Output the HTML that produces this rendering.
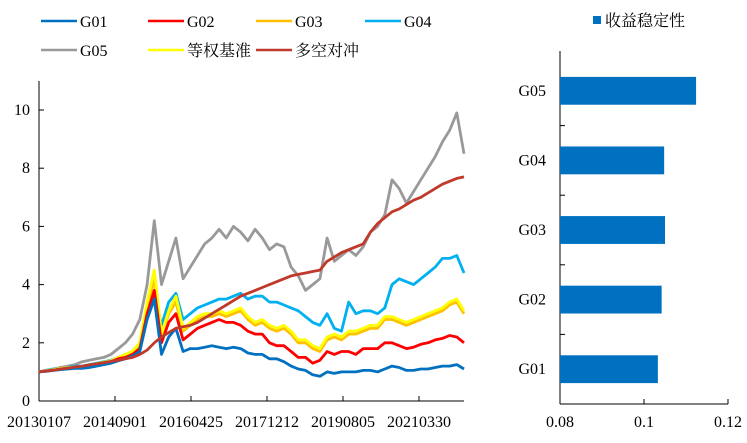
<!DOCTYPE html>
<html><head><meta charset="utf-8"><style>
body{margin:0;background:#fff;}
svg text{font-family:"Liberation Serif","Noto Serif CJK SC",serif;font-size:16px;fill:#000;}
</style></head><body>
<svg id="c" width="747" height="438"></svg>
<script>
const categories = ["G01","G02","G03","G04","G05"];
const barValues = [0.1033,0.1042,0.1050,0.1048,0.1124];
const xTickLabels = ["20130107","20140901","20160425","20171212","20190805","20210330"];
const yTicks = [0,2,4,6,8,10];
const barTicks = [0.08,0.1,0.12];
const g01 = [1.0,1.02,1.05,1.08,1.1,1.12,1.12,1.15,1.2,1.25,1.3,1.38,1.45,1.55,1.7,2.8,3.5,1.6,2.2,2.5,1.7,1.8,1.8,1.85,1.9,1.85,1.8,1.85,1.8,1.65,1.6,1.6,1.45,1.45,1.35,1.2,1.1,1.05,0.9,0.85,1.0,0.95,1.0,1.0,1.0,1.05,1.05,1.0,1.1,1.2,1.15,1.05,1.05,1.1,1.1,1.15,1.2,1.2,1.25,1.1];
const g02 = [1.0,1.03,1.06,1.1,1.12,1.15,1.15,1.2,1.25,1.3,1.35,1.45,1.5,1.6,1.8,3.0,3.8,2.0,2.7,3.0,2.1,2.3,2.5,2.6,2.7,2.8,2.7,2.7,2.6,2.4,2.3,2.3,2.0,1.9,1.9,1.7,1.5,1.5,1.3,1.4,1.7,1.6,1.7,1.7,1.6,1.8,1.8,1.8,2.0,2.0,1.9,1.8,1.85,1.95,2.0,2.1,2.15,2.25,2.2,2.0];
const g03 = [1.0,1.03,1.06,1.1,1.12,1.15,1.15,1.2,1.25,1.3,1.35,1.45,1.55,1.65,1.9,3.2,4.2,2.2,3.0,3.4,2.4,2.6,2.8,2.9,2.9,3.0,2.9,3.0,3.1,2.8,2.6,2.7,2.5,2.4,2.5,2.3,2.0,2.0,1.8,1.7,2.1,2.2,2.1,2.3,2.3,2.4,2.5,2.5,2.8,2.8,2.7,2.6,2.7,2.8,2.9,3.0,3.1,3.3,3.4,3.0];
const g04 = [1.0,1.05,1.1,1.1,1.15,1.2,1.2,1.25,1.3,1.35,1.4,1.5,1.6,1.7,2.0,3.0,3.6,2.6,3.4,3.7,2.8,3.0,3.2,3.3,3.4,3.5,3.5,3.6,3.7,3.5,3.6,3.6,3.4,3.4,3.3,3.2,3.1,2.9,2.7,2.6,3.0,2.5,2.4,3.4,3.0,3.1,3.1,3.0,3.2,4.0,4.2,4.1,4.0,4.2,4.4,4.6,4.9,4.9,5.0,4.4];
const g05 = [1.0,1.05,1.1,1.15,1.2,1.25,1.35,1.4,1.45,1.5,1.6,1.8,2.0,2.3,2.8,4.0,6.2,4.0,4.8,5.6,4.2,4.6,5.0,5.4,5.6,5.9,5.6,6.0,5.8,5.5,5.9,5.6,5.2,5.4,5.3,4.6,4.3,3.8,4.0,4.2,5.6,4.8,5.0,5.2,5.0,5.3,5.8,6.0,6.4,7.6,7.3,6.8,7.2,7.6,8.0,8.4,8.9,9.3,9.9,8.5];
const bench = [1.0,1.04,1.08,1.12,1.14,1.17,1.18,1.23,1.28,1.33,1.38,1.5,1.6,1.72,2.0,3.4,4.5,2.3,3.1,3.6,2.5,2.7,2.9,3.0,3.0,3.1,3.0,3.1,3.2,2.9,2.7,2.8,2.6,2.5,2.6,2.4,2.1,2.1,1.9,1.8,2.2,2.3,2.2,2.4,2.4,2.5,2.6,2.6,2.9,2.9,2.8,2.7,2.8,2.9,3.0,3.1,3.2,3.4,3.5,3.1];
const hedge = [1.0,1.03,1.06,1.1,1.13,1.17,1.2,1.24,1.28,1.32,1.36,1.4,1.45,1.5,1.6,1.75,2.0,2.2,2.35,2.5,2.55,2.6,2.7,2.85,3.0,3.15,3.3,3.45,3.6,3.7,3.8,3.9,4.0,4.1,4.2,4.3,4.35,4.4,4.45,4.5,4.8,4.95,5.1,5.2,5.3,5.4,5.8,6.1,6.3,6.5,6.6,6.75,6.9,7.0,7.15,7.3,7.45,7.55,7.65,7.7];

const NS="http://www.w3.org/2000/svg", svg=document.getElementById('c');
function mk(t,a,p){const e=document.createElementNS(NS,t);for(const k in a)e.setAttribute(k,a[k]);(p||svg).appendChild(e);return e;}
const X0=39,X1=464,Y0=401,Y10=110;
const xs=i=>X0+i*(X1-X0)/(g01.length-1);
const ys=v=>Y0-v*(Y0-Y10)/10;
let ax=mk('line',{x1:X0,y1:81,x2:X0,y2:Y0,stroke:'#000','stroke-width':1});


let bx=mk('line',{x1:X0,y1:Y0,x2:X1,y2:Y0,stroke:'#000','stroke-width':1});


yTicks.forEach(v=>{
  mk('line',{x1:X0,y1:ys(v),x2:X0+5,y2:ys(v),stroke:'#000'});
  const t=mk('text',{x:X0-9,y:ys(v)+5,'text-anchor':'end'});t.textContent=v;
  
  
});
xTickLabels.forEach((l,i)=>{
  const x=X0+i*76;
  if(i>0)mk('line',{x1:x,y1:Y0,x2:x,y2:Y0-5,stroke:'#000'});
  const t=mk('text',{x:x,y:427,'text-anchor':'middle'});t.textContent=l;
  
  
});
const series=[["G05",g05,"#999999"],["G04",g04,"#00B0F0"],["G03",g03,"#FFC000"],["等权基准",bench,"#FFFF00"],["G02",g02,"#FF0000"],["G01",g01,"#0070C0"],["多空对冲",hedge,"#C0392B"]];
series.forEach(s=>{
  const p=mk('polyline',{points:s[1].map((v,i)=>xs(i).toFixed(1)+','+ys(v).toFixed(1)).join(' '),fill:'none',stroke:s[2],'stroke-width':2.8,'stroke-linejoin':'round'});
  
  
});
const leg=[["G01","#0070C0",41,21],["G02","#FF0000",148,21],["G03","#FFC000",256,21],["G04","#00B0F0",365,21],["G05","#999999",41,50],["等权基准","#FFFF00",148,50],["多空对冲","#C0392B",256,50]];
leg.forEach(l=>{
  const g=mk('g',{});
  
  
  mk('line',{x1:l[2],y1:l[3],x2:l[2]+36,y2:l[3],stroke:l[1],'stroke-width':2.5},g);
  const t=mk('text',{x:l[2]+39,y:l[3]+6},g);t.textContent=l[0];
});
const BX0=560,BX1=728,BY0=404,BYT=56;
const bxs=v=>BX0+(v-0.08)/(0.12-0.08)*(BX1-BX0);
const band=(BY0-BYT)/categories.length;
let rax=mk('line',{x1:BX0,y1:BYT-5,x2:BX0,y2:BY0,stroke:'#000'});


let rbx=mk('line',{x1:BX0,y1:BY0,x2:BX1,y2:BY0,stroke:'#000'});


barTicks.forEach(v=>{
  mk('line',{x1:bxs(v),y1:BY0,x2:bxs(v),y2:BY0-5,stroke:'#000'});
  const t=mk('text',{x:bxs(v),y:427,'text-anchor':'middle'});t.textContent=v;
  
  
});
categories.forEach((c,i)=>{
  const top=BY0-(i+1)*band;
  if(i<categories.length-1)mk('line',{x1:BX0,y1:top,x2:BX0+5,y2:top,stroke:'#000'});
  const r=mk('rect',{x:BX0,y:top+band*0.3,width:bxs(barValues[i])-BX0,height:band*0.4,fill:'#0070C0'});
  
  
  const t=mk('text',{x:BX0-14,y:top+band/2+5,'text-anchor':'end'});t.textContent=c;
  
  
});
const lg=mk('g',{});


mk('rect',{x:593,y:16,width:8,height:8,fill:'#0070C0'},lg);
const lt=mk('text',{x:605,y:26},lg);lt.textContent="收益稳定性";
</script>
</body></html>
